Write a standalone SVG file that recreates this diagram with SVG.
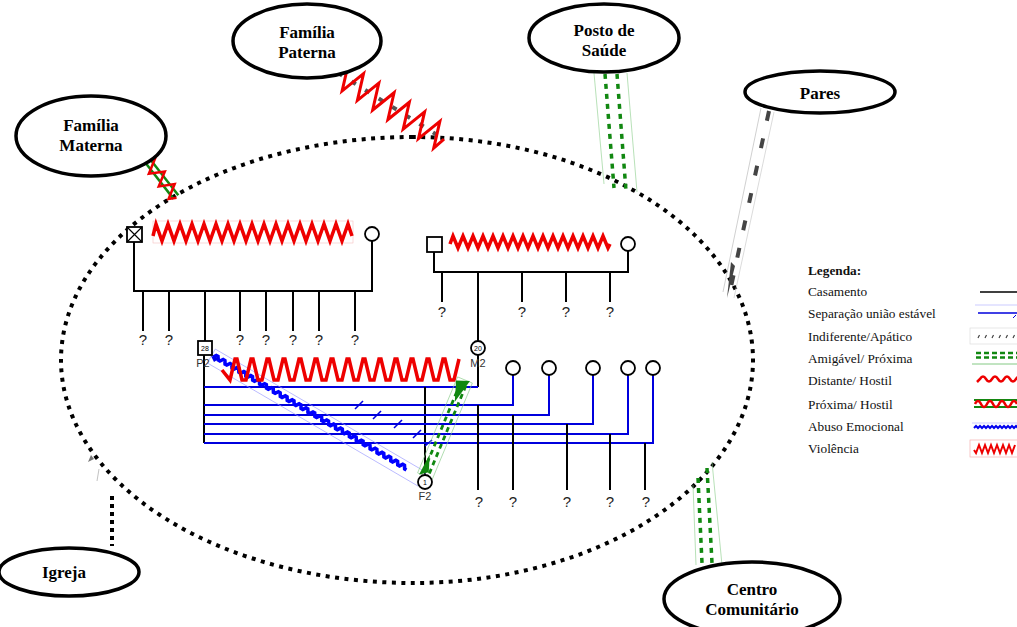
<svg xmlns="http://www.w3.org/2000/svg" width="1017" height="627" viewBox="0 0 1017 627">
<style>
.ell{fill:#fff;stroke:#000;stroke-width:3.5}
.lbl{font-family:"Liberation Serif","Times New Roman",serif;font-weight:bold;font-size:17px;text-anchor:middle;fill:#000}
.q{font-family:"Liberation Sans",sans-serif;font-size:15px;text-anchor:middle;fill:#222}
.id{font-family:"Liberation Sans",sans-serif;font-size:11px;text-anchor:middle;fill:#333}
.age{font-family:"Liberation Sans",sans-serif;font-size:7px;text-anchor:middle;fill:#000}
.ln{stroke:#000;stroke-width:2;fill:none}
.bl{stroke:#0000dd;stroke-width:2;fill:none}
.per{fill:#fff;stroke:#000;stroke-width:1.8}
.viol{fill:none;stroke:#ee0000;stroke-width:3.5;stroke-linejoin:miter}
.leg{font-family:"Liberation Serif","Times New Roman",serif;font-size:13.3px;fill:#111}
.gd{stroke:#118811;stroke-width:3.5;stroke-dasharray:5 5;fill:none}
.thin-g{stroke:#88cc88;stroke-width:0.6;fill:none}
</style>

<!-- outer dotted ellipse (household) -->
<g id="household">
<path d="M413,137 A352,223 0 0 0 413,583 A340,223 0 0 0 413,137 Z" fill="none" stroke="#000" stroke-width="4" stroke-dasharray="4 5.5"/>
</g>

<!-- connectors -->
<g id="connectors">
  <!-- Familia Materna: proxima/hostil -->
  <g transform="translate(147,160) rotate(52)">
    <line x1="0" y1="-3" x2="47" y2="-3" stroke="#118811" stroke-width="2.5"/>
    <line x1="0" y1="3" x2="47" y2="3" stroke="#118811" stroke-width="2.5"/>
    <path d="M0,0 l4,-7 l8,14 l8,-14 l8,14 l8,-14 l8,14 l4,-7" fill="none" stroke="#ee0000" stroke-width="2.5"/>
  </g>
  <!-- Familia Paterna: violencia -->
  <g transform="translate(338,73) rotate(32)">
    <line x1="0" y1="0" x2="122" y2="0" stroke="#555" stroke-width="4" stroke-dasharray="5 11"/>
    <path d="M0,0 l4,-13 l9,26 l9,-26 l9,26 l9,-26 l9,26 l9,-26 l9,26 l9,-26 l9,26 l9,-26 l9,26 l9,-26 l9,26 l4,-13" fill="none" stroke="#ee0000" stroke-width="3"/>
  </g>
  <!-- Posto de Saude: amigavel/proxima -->
  <line x1="594" y1="73" x2="604" y2="184" class="thin-g"/>
  <line x1="627" y1="73" x2="637" y2="192" class="thin-g"/>
  <line x1="605" y1="74" x2="614" y2="188" class="gd"/>
  <line x1="617" y1="74" x2="626" y2="191" class="gd"/>
  <!-- Pares: indiferente -->
  <line x1="761" y1="108" x2="723" y2="292" stroke="#bbb" stroke-width="0.7"/>
  <line x1="774" y1="112" x2="734" y2="298" stroke="#ccc" stroke-width="0.7"/>
  <line x1="769" y1="111" x2="729" y2="296" stroke="#444" stroke-width="4" stroke-dasharray="10 18"/>
  <polygon points="727,298 731,262 735,266" fill="#444"/>
  <!-- Igreja -->
  <line x1="112" y1="496" x2="112" y2="546" stroke="#000" stroke-width="4" stroke-dasharray="4 4"/>
  <polygon points="88,462 91,455 94,459" fill="#777"/>
  <line x1="99" y1="469" x2="97" y2="481" stroke="#999" stroke-width="0.6"/>
  <!-- Centro Comunitario -->
  <line x1="693" y1="485" x2="696" y2="565" class="thin-g"/>
  <line x1="712" y1="462" x2="722" y2="565" class="thin-g"/>
  <line x1="698" y1="478" x2="702" y2="563" class="gd"/>
  <line x1="707" y1="468" x2="712" y2="563" class="gd"/>
</g>

<!-- external systems -->
<g id="familia-paterna"><ellipse class="ell" cx="307" cy="41" rx="74" ry="37"/><text class="lbl" x="307" y="38">Família</text><text class="lbl" x="307" y="58">Paterna</text></g>
<g id="familia-materna"><ellipse class="ell" cx="91" cy="136" rx="75" ry="40"/><text class="lbl" x="91" y="131">Família</text><text class="lbl" x="91" y="151">Materna</text></g>
<g id="posto-saude"><ellipse class="ell" cx="604" cy="38" rx="75" ry="34"/><text class="lbl" x="604" y="36">Posto de</text><text class="lbl" x="604" y="56">Saúde</text></g>
<g id="pares"><ellipse class="ell" cx="820" cy="92" rx="75" ry="21"/><text class="lbl" x="820" y="99">Pares</text></g>
<g id="igreja"><ellipse class="ell" cx="69" cy="572" rx="70" ry="24"/><text class="lbl" x="64" y="578">Igreja</text></g>
<g id="centro-comunitario"><ellipse class="ell" cx="752" cy="599" rx="88" ry="37"/><text class="lbl" x="752" y="595">Centro</text><text class="lbl" x="752" y="615">Comunitário</text></g>

<!-- genogram lines -->
<g id="genogram-lines">
  <polyline class="ln" points="134,242 134,291 372,291 372,241"/>
  <line class="ln" x1="143" y1="291" x2="143" y2="331"/>
  <line class="ln" x1="169" y1="291" x2="169" y2="331"/>
  <line class="ln" x1="205" y1="291" x2="205" y2="341"/>
  <line class="ln" x1="240" y1="291" x2="240" y2="331"/>
  <line class="ln" x1="266" y1="291" x2="266" y2="331"/>
  <line class="ln" x1="293" y1="291" x2="293" y2="331"/>
  <line class="ln" x1="319" y1="291" x2="319" y2="331"/>
  <line class="ln" x1="355" y1="291" x2="355" y2="331"/>
  <polyline class="ln" points="434,252 434,272 628,272 628,251"/>
  <line class="ln" x1="442" y1="272" x2="442" y2="302"/>
  <line class="ln" x1="478" y1="272" x2="478" y2="341"/>
  <line class="ln" x1="522" y1="272" x2="522" y2="302"/>
  <line class="ln" x1="566" y1="272" x2="566" y2="302"/>
  <line class="ln" x1="610" y1="272" x2="610" y2="302"/>
  <line class="ln" x1="204" y1="355" x2="204" y2="443"/>
  <line class="ln" x1="478" y1="355" x2="478" y2="387"/>
  <polyline class="bl" points="204,387 478,387"/>
  <line class="ln" x1="425" y1="387" x2="425" y2="475"/>
  <polyline class="bl" points="204,405 513,405 513,375"/>
  <polyline class="bl" points="204,415 549,415 549,375"/>
  <polyline class="bl" points="204,424 593,424 593,375"/>
  <polyline class="bl" points="204,434 628,434 628,375"/>
  <polyline class="bl" points="204,443 653,443 653,375"/>
  <g stroke="#0000dd" stroke-width="1.6">
    <line x1="355" y1="409" x2="363" y2="401"/>
    <line x1="373" y1="419" x2="381" y2="411"/>
    <line x1="394" y1="428" x2="402" y2="420"/>
    <line x1="413" y1="438" x2="421" y2="430"/>
    <line x1="425" y1="446" x2="432" y2="440"/>
  </g>
  <line class="ln" x1="478" y1="405" x2="478" y2="490"/>
  <line class="ln" x1="513" y1="415" x2="513" y2="490"/>
  <line class="ln" x1="567" y1="424" x2="567" y2="490"/>
  <line class="ln" x1="610" y1="434" x2="610" y2="490"/>
  <line class="ln" x1="645" y1="443" x2="645" y2="490"/>
</g>

<!-- relationship lines inside genogram -->
<g id="relations">
  <g transform="translate(213,357) rotate(30.3)">
    <rect x="-2" y="-8" width="244" height="16" fill="none" stroke="#9999ff" stroke-width="0.6"/>
    <path d="M0,0 l2,-3 l2,0 l2,3 l2,0 l2,-3 l2,0 l2,3 l2,0 l2,-3 l2,0 l2,3 l2,0 l2,-3 l2,0 l2,3 l2,0 l2,-3 l2,0 l2,3 l2,0 l2,-3 l2,0 l2,3 l2,0 l2,-3 l2,0 l2,3 l2,0 l2,-3 l2,0 l2,3 l2,0 l2,-3 l2,0 l2,3 l2,0 l2,-3 l2,0 l2,3 l2,0 l2,-3 l2,0 l2,3 l2,0 l2,-3 l2,0 l2,3 l2,0 l2,-3 l2,0 l2,3 l2,0 l2,-3 l2,0 l2,3 l2,0 l2,-3 l2,0 l2,3 l2,0 l2,-3 l2,0 l2,3 l2,0 l2,-3 l2,0 l2,3 l2,0 l2,-3 l2,0 l2,3 l2,0 l2,-3 l2,0 l2,3 l2,0 l2,-3 l2,0 l2,3 l2,0 l2,-3 l2,0 l2,3 l2,0 l2,-3 l2,0 l2,3 l2,0 l2,-3 l2,0 l2,3 l2,0 l2,-3 l2,0 l2,3 l2,0 l2,-3 l2,0 l2,3 l2,0 l2,-3 l2,0 l2,3 l2,0 l2,-3 l2,0 l2,3 l2,0 l2,-3 l2,0 l2,3 l2,0" fill="none" stroke="#0000ff" stroke-width="3.6"/>
  </g>
  <rect x="153" y="221" width="200" height="22" fill="none" stroke="#f6c0c0" stroke-width="0.6"/>
  <path class="viol" d="M153,236 l3,-12 l6,17 l6,-17 l6,17 l6,-17 l6,17 l6,-17 l6,17 l6,-17 l6,17 l6,-17 l6,17 l6,-17 l6,17 l6,-17 l6,17 l6,-17 l6,17 l6,-17 l6,17 l6,-17 l6,17 l6,-17 l6,17 l6,-17 l6,17 l6,-17 l6,17 l6,-17 l6,17 l6,-17 l6,17 l6,-17 l4,12"/>
  <path class="viol" stroke-width="3" d="M450,244 l3,-8 l5,12 l5,-12 l5,12 l5,-12 l5,12 l5,-12 l5,12 l5,-12 l5,12 l5,-12 l5,12 l5,-12 l5,12 l5,-12 l5,12 l5,-12 l5,12 l5,-12 l5,12 l5,-12 l5,12 l5,-12 l5,12 l5,-12 l5,12 l5,-12 l5,12 l5,-12 l5,12 l5,-12 l5,12 l2,-4"/>
  <path class="viol" stroke-width="4.5" d="M222,370 l8,10 l5,-21 l2,0 l5,21 l4,0 l5,-21 l2,0 l5,21 l4,0 l5,-21 l2,0 l5,21 l4,0 l5,-21 l2,0 l5,21 l4,0 l5,-21 l2,0 l5,21 l4,0 l5,-21 l2,0 l5,21 l4,0 l5,-21 l2,0 l5,21 l4,0 l5,-21 l2,0 l5,21 l4,0 l5,-21 l2,0 l5,21 l4,0 l5,-21 l2,0 l5,21 l4,0 l5,-21 l2,0 l5,21 l4,0 l5,-21 l2,0 l5,21 l4,0 l5,-21 l2,0 l5,21 l4,0 l5,-21 l2,0 l5,21 l4,0 l5,-21"/>
  <polygon points="211,356 220,358 214,362" fill="#0000ee"/>
  <g transform="translate(425,476) rotate(-67.4)">
    <rect x="0" y="-8" width="104" height="16" fill="none" stroke="#88cc88" stroke-width="0.6"/>
    <line x1="4" y1="-3" x2="100" y2="-3" stroke="#118811" stroke-width="2.8" stroke-dasharray="5 4"/>
    <line x1="4" y1="3" x2="100" y2="3" stroke="#118811" stroke-width="2.8" stroke-dasharray="5 4"/>
    <polygon points="-1,-6 5,2 22,-4" fill="#118811"/>
    <polygon points="105,5 100,-8 80,-1" fill="#118811"/>
  </g>
</g>

<!-- persons -->
<g id="avo-paterno"><rect class="per" x="127" y="227" width="15" height="15"/><path d="M127,227 L142,242 M142,227 L127,242" stroke="#000" stroke-width="1.2"/></g>
<g id="avo-paterna"><circle class="per" cx="372" cy="234" r="7"/></g>
<g id="avo-materno"><rect class="per" x="427" y="237" width="15" height="15"/></g>
<g id="avo-materna"><circle class="per" cx="628" cy="244" r="7"/></g>
<g id="P2"><rect class="per" x="198" y="341" width="14" height="14"/><text class="age" x="205" y="350.5">28</text><text class="id" x="203" y="367">P2</text></g>
<g id="M2"><circle class="per" cx="478" cy="348" r="7"/><text class="age" x="478" y="350.5">20</text><text class="id" x="478" y="367">M2</text></g>
<g id="F2"><circle class="per" cx="425" cy="482" r="7"/><text class="age" x="425" y="484.5">1</text><text class="id" x="425" y="500">F2</text></g>
<g id="parceira1"><circle class="per" cx="513" cy="368" r="7"/></g>
<g id="parceira2"><circle class="per" cx="549" cy="368" r="7"/></g>
<g id="parceira3"><circle class="per" cx="593" cy="368" r="7"/></g>
<g id="parceira4"><circle class="per" cx="628" cy="368" r="7"/></g>
<g id="parceira5"><circle class="per" cx="653" cy="368" r="7"/></g>

<g id="unknown">
  <text class="q" x="143" y="345">?</text><text class="q" x="169" y="345">?</text>
  <text class="q" x="240" y="345">?</text><text class="q" x="266" y="345">?</text>
  <text class="q" x="293" y="345">?</text><text class="q" x="319" y="345">?</text>
  <text class="q" x="355" y="345">?</text>
  <text class="q" x="442" y="317">?</text><text class="q" x="522" y="317">?</text>
  <text class="q" x="566" y="317">?</text><text class="q" x="610" y="317">?</text>
  <text class="q" x="479" y="507">?</text><text class="q" x="513" y="507">?</text>
  <text class="q" x="567" y="507">?</text><text class="q" x="610" y="507">?</text>
  <text class="q" x="646" y="507">?</text>
</g>

<g id="legenda">
  <text class="leg" x="808" y="275" font-weight="bold" font-size="14.5">Legenda:</text>
  <text class="leg" x="808" y="296">Casamento</text>
  <text class="leg" x="808" y="318">Separação união estável</text>
  <text class="leg" x="808" y="341">Indiferente/Apático</text>
  <text class="leg" x="808" y="363">Amigável/ Próxima</text>
  <text class="leg" x="808" y="385">Distante/ Hostil</text>
  <text class="leg" x="808" y="409">Próxima/ Hostil</text>
  <text class="leg" x="808" y="431">Abuso Emocional</text>
  <text class="leg" x="808" y="453">Violência</text>
  <line x1="980" y1="292" x2="1017" y2="292" stroke="#000" stroke-width="1.5"/>
  <line x1="975" y1="305" x2="1017" y2="305" stroke="#aaaaff" stroke-width="0.6"/>
  <line x1="978" y1="313" x2="1017" y2="313" stroke="#0000dd" stroke-width="1.5"/>
  <line x1="1013" y1="318" x2="1016" y2="315" stroke="#0000dd" stroke-width="1"/>
  <rect x="970" y="328" width="60" height="16" fill="none" stroke="#ddd" stroke-width="0.7"/>
  <path d="M978,338 l1.5,-3 M985,338 l1.5,-3 M992,338 l1.5,-3 M999,338 l1.5,-3 M1006,338 l1.5,-3 M1013,338 l1.5,-3" stroke="#444" stroke-width="1.2"/>
  <line x1="976" y1="353" x2="1017" y2="353" stroke="#118811" stroke-width="2.5" stroke-dasharray="5 3"/>
  <line x1="976" y1="357.5" x2="1017" y2="357.5" stroke="#118811" stroke-width="2.5" stroke-dasharray="5 3"/>
  <line x1="972" y1="364" x2="1017" y2="364" stroke="#66bb66" stroke-width="0.8"/>
  <path d="M977,382 l3,-3 q3,-5 6,0 t6,0 t6,0 t6,0 t6,0 t6,0 t6,0" fill="none" stroke="#ee0000" stroke-width="2.5"/>
  <line x1="974" y1="400" x2="1017" y2="400" stroke="#118811" stroke-width="2"/>
  <line x1="974" y1="407" x2="1017" y2="407" stroke="#118811" stroke-width="2"/>
  <path d="M975,404 q3,-6 6,0 t6,0 t6,0 t6,0 t6,0 t6,0 t6,0" fill="none" stroke="#ee0000" stroke-width="2.5"/>
  <line x1="972" y1="423" x2="1017" y2="423" stroke="#aaaaff" stroke-width="0.6"/>
  <path d="M974,428 l2,-2 l2,2 l2,-2 l2,2 l2,-2 l2,2 l2,-2 l2,2 l2,-2 l2,2 l2,-2 l2,2 l2,-2 l2,2 l2,-2 l2,2 l2,-2 l2,2 l2,-2 l2,2 l2,-2 l2,2" fill="none" stroke="#0000ee" stroke-width="2"/>
  <rect x="970" y="440" width="60" height="17" fill="none" stroke="#f3b0b0" stroke-width="0.7"/>
  <path d="M974,450 l2,3 l3,-8 l3,8 l3,-8 l3,8 l3,-8 l3,8 l3,-8 l3,8 l3,-8 l3,8 l3,-8 l3,8 l3,-8" fill="none" stroke="#ee0000" stroke-width="2"/>
</g>
</svg>
